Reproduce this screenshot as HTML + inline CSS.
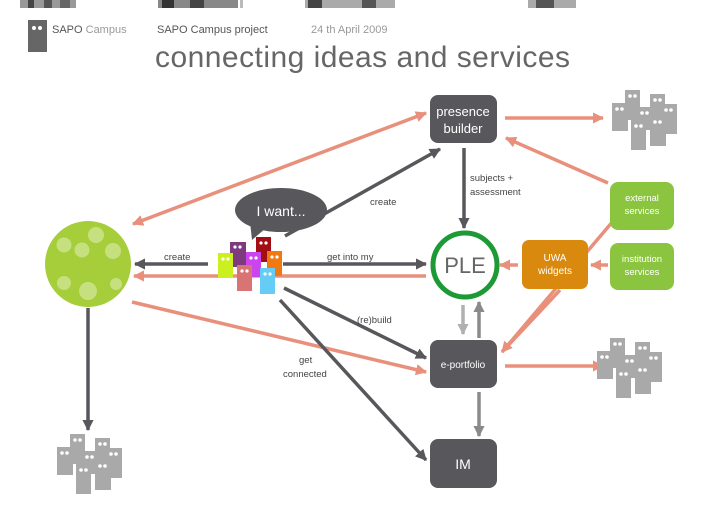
<!DOCTYPE html>
<html><head><meta charset="utf-8"><style>
body{margin:0;background:#fff;}
svg{display:block;font-family:"Liberation Sans",sans-serif;}
</style></head><body>
<svg width="728" height="514" viewBox="0 0 728 514" xmlns="http://www.w3.org/2000/svg">
<defs>
<marker id="ad" viewBox="0 0 10 10" refX="9" refY="5" markerWidth="3.2" markerHeight="3.2" orient="auto-start-reverse"><path d="M0,0L10,5L0,10z" fill="#58575b"/></marker>
<marker id="as" viewBox="0 0 10 10" refX="9" refY="5" markerWidth="3.2" markerHeight="3.2" orient="auto-start-reverse"><path d="M0,0L10,5L0,10z" fill="#e8907c"/></marker>
<marker id="ag" viewBox="0 0 10 10" refX="9" refY="5" markerWidth="3.2" markerHeight="3.2" orient="auto-start-reverse"><path d="M0,0L10,5L0,10z" fill="#8a898c"/></marker>
<marker id="al" viewBox="0 0 10 10" refX="9" refY="5" markerWidth="3.2" markerHeight="3.2" orient="auto-start-reverse"><path d="M0,0L10,5L0,10z" fill="#b0afb1"/></marker>
<g id="ppl" fill="#a9a9a9">
<rect x="0" y="13" width="16" height="28"/><rect x="13" y="0" width="15" height="30"/><rect x="25" y="17" width="20" height="23"/>
<rect x="38" y="4" width="15" height="22"/><rect x="48" y="14" width="17" height="30"/><rect x="19" y="30" width="15" height="30"/><rect x="38" y="26" width="16" height="30"/>
<g fill="#fff"><circle cx="5" cy="19" r="1.8"/><circle cx="10" cy="19" r="1.8"/><circle cx="18" cy="6" r="1.8"/><circle cx="23" cy="6" r="1.8"/><circle cx="30" cy="23" r="1.8"/><circle cx="35" cy="23" r="1.8"/><circle cx="43" cy="10" r="1.8"/><circle cx="48" cy="10" r="1.8"/><circle cx="54" cy="20" r="1.8"/><circle cx="59" cy="20" r="1.8"/><circle cx="24" cy="36" r="1.8"/><circle cx="29" cy="36" r="1.8"/><circle cx="43" cy="32" r="1.8"/><circle cx="48" cy="32" r="1.8"/></g>
</g>
</defs>
<g>
<rect x="20" y="0" width="56" height="8" fill="#999"/><rect x="28" y="0" width="6" height="8" fill="#444"/><rect x="44" y="0" width="8" height="8" fill="#555"/><rect x="60" y="0" width="10" height="8" fill="#666"/>
<rect x="158" y="0" width="80" height="8" fill="#888"/><rect x="162" y="0" width="12" height="8" fill="#333"/><rect x="190" y="0" width="14" height="8" fill="#444"/><rect x="240" y="0" width="3" height="8" fill="#bbb"/>
<rect x="305" y="0" width="90" height="8" fill="#aaa"/><rect x="308" y="0" width="14" height="8" fill="#444"/><rect x="362" y="0" width="14" height="8" fill="#555"/>
<rect x="528" y="0" width="48" height="8" fill="#aaa"/><rect x="536" y="0" width="18" height="8" fill="#555"/>
</g>
<rect x="28" y="20" width="19" height="32" fill="#666"/>
<circle cx="34" cy="28" r="2" fill="#fff"/><circle cx="40" cy="28" r="2" fill="#fff"/>
<text x="52" y="33" font-size="11" fill="#555">SAPO <tspan fill="#999">Campus</tspan></text>
<text x="157" y="33" font-size="11" fill="#555">SAPO Campus project</text>
<text x="311" y="33" font-size="11" fill="#999">24 th April 2009</text>
<text x="155" y="67" font-size="30" fill="#666" textLength="415">connecting ideas and services</text>

<g stroke="#e8907c" stroke-width="3.5" fill="none">
<line x1="133" y1="224" x2="426" y2="113" marker-start="url(#as)" marker-end="url(#as)"/>
<line x1="505" y1="118" x2="603" y2="118" marker-end="url(#as)"/>
<line x1="608" y1="183" x2="506" y2="138" marker-end="url(#as)"/>
<line x1="614" y1="220" x2="502" y2="352" marker-end="url(#as)"/>
<line x1="608" y1="265" x2="591" y2="265" marker-end="url(#as)"/>
<line x1="518" y1="265" x2="500" y2="265" marker-end="url(#as)"/>
<line x1="560" y1="290" x2="502" y2="352"/>
<line x1="505" y1="366" x2="603" y2="366" marker-end="url(#as)"/>
<line x1="132" y1="302" x2="426" y2="372" marker-end="url(#as)"/>
<line x1="426" y1="276" x2="134" y2="276" marker-end="url(#as)"/>
</g>
<g stroke="#58575b" stroke-width="3.5" fill="none">
<line x1="208" y1="264" x2="135" y2="264" marker-end="url(#ad)"/>
<line x1="283" y1="264" x2="426" y2="264" marker-end="url(#ad)"/>
<line x1="285" y1="236" x2="440" y2="149" marker-end="url(#ad)"/>
<line x1="284" y1="288" x2="426" y2="358" marker-end="url(#ad)"/>
<line x1="280" y1="300" x2="426" y2="460" marker-end="url(#ad)"/>
<line x1="464" y1="148" x2="464" y2="228" marker-end="url(#ad)"/>
<line x1="88" y1="308" x2="88" y2="430" marker-end="url(#ad)"/>
</g>
<g stroke-width="3.5" fill="none">
<line x1="463" y1="305" x2="463" y2="334" stroke="#b0afb1" marker-end="url(#al)"/>
<line x1="479" y1="338" x2="479" y2="302" stroke="#8a898c" marker-end="url(#ag)"/>
<line x1="479" y1="392" x2="479" y2="436" stroke="#8a898c" marker-end="url(#ag)"/>
</g>

<g font-size="9.5" fill="#444">
<text x="164" y="260">create</text>
<text x="327" y="260">get into my</text>
<text x="370" y="205">create</text>
<text x="357" y="323">(re)build</text>
<text x="299" y="363">get</text>
<text x="283" y="377">connected</text>
<text x="470" y="181">subjects +</text>
<text x="470" y="195">assessment</text>
</g>

<rect x="430" y="95" width="67" height="48" rx="8" fill="#58575b"/>
<text x="463" y="116" font-size="13" fill="#fff" text-anchor="middle">presence</text>
<text x="463" y="133" font-size="13" fill="#fff" text-anchor="middle">builder</text>
<circle cx="465" cy="265" r="32" fill="#fff" stroke="#1d9a36" stroke-width="5"/>
<text x="465" y="273" font-size="22" fill="#666" text-anchor="middle">PLE</text>
<rect x="430" y="340" width="67" height="48" rx="8" fill="#58575b"/>
<text x="463" y="368" font-size="10" fill="#fff" text-anchor="middle">e-portfolio</text>
<rect x="430" y="439" width="67" height="49" rx="8" fill="#58575b"/>
<text x="463" y="469" font-size="14" fill="#fff" text-anchor="middle">IM</text>
<rect x="522" y="240" width="66" height="49" rx="7" fill="#d98a0e"/>
<text x="555" y="261" font-size="10" fill="#fff" text-anchor="middle">UWA</text>
<text x="555" y="274" font-size="10" fill="#fff" text-anchor="middle">widgets</text>
<rect x="610" y="182" width="64" height="48" rx="8" fill="#8bc53f"/>
<text x="642" y="201" font-size="9.5" fill="#fff" text-anchor="middle">external</text>
<text x="642" y="214" font-size="9.5" fill="#fff" text-anchor="middle">services</text>
<rect x="610" y="243" width="64" height="47" rx="8" fill="#8bc53f"/>
<text x="642" y="262" font-size="9.5" fill="#fff" text-anchor="middle">institution</text>
<text x="642" y="275" font-size="9.5" fill="#fff" text-anchor="middle">services</text>

<circle cx="88" cy="264" r="43" fill="#a6cd3a"/>
<g fill="#c6e07f">
<circle cx="96" cy="235" r="8"/><circle cx="64" cy="245" r="7.5"/><circle cx="82" cy="250" r="7.5"/><circle cx="113" cy="251" r="8"/>
<circle cx="64" cy="283" r="7"/><circle cx="88" cy="291" r="9"/><circle cx="116" cy="284" r="6"/>
</g>

<ellipse cx="281" cy="210" rx="46" ry="22" fill="#58575b"/>
<path d="M250,222 L252,240 L266,228z" fill="#58575b"/>
<text x="281" y="216" font-size="14" fill="#fff" text-anchor="middle">I want...</text>

<g>
<rect x="230" y="242" width="16" height="25" fill="#7d3a7e"/>
<rect x="256" y="237" width="15" height="25" fill="#a10f14"/>
<rect x="218" y="253" width="15" height="25" fill="#ccef1f"/>
<rect x="246" y="252" width="15" height="25" fill="#cc44ee"/>
<rect x="267" y="251" width="15" height="25" fill="#ef7a12"/>
<rect x="237" y="265" width="15" height="26" fill="#d97474"/>
<rect x="260" y="268" width="15" height="26" fill="#66ccf5"/>
<g fill="#fff"><circle cx="235" cy="247" r="1.6"/><circle cx="240" cy="247" r="1.6"/><circle cx="261" cy="243" r="1.6"/><circle cx="266" cy="243" r="1.6"/><circle cx="223" cy="259" r="1.6"/><circle cx="228" cy="259" r="1.6"/><circle cx="251" cy="258" r="1.6"/><circle cx="256" cy="258" r="1.6"/><circle cx="272" cy="257" r="1.6"/><circle cx="277" cy="257" r="1.6"/><circle cx="242" cy="271" r="1.6"/><circle cx="247" cy="271" r="1.6"/><circle cx="265" cy="274" r="1.6"/><circle cx="270" cy="274" r="1.6"/></g>
</g>

<use href="#ppl" x="612" y="90"/>
<use href="#ppl" x="597" y="338"/>
<use href="#ppl" x="57" y="434"/>
</svg>
</body></html>
